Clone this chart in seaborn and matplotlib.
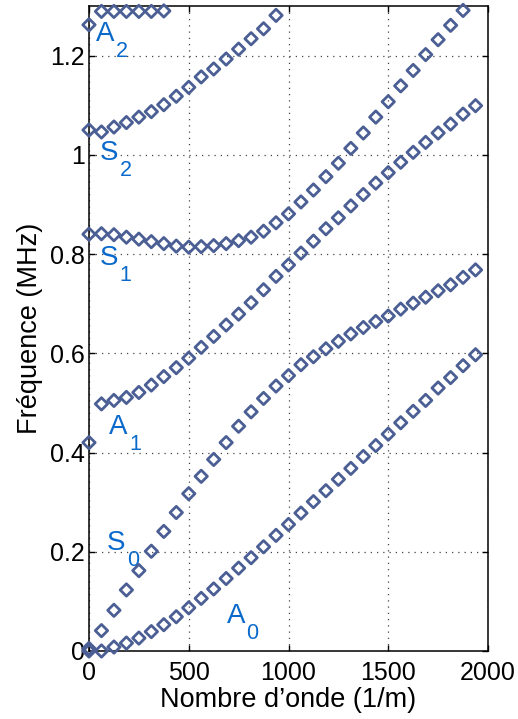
import matplotlib
matplotlib.use("Agg")
import matplotlib.pyplot as plt
import matplotlib.transforms as mtransforms
import seaborn as sns
import pandas as pd

# wavenumber grid (1/m) shared by every mode
wavenumber = [0, 62.5, 125, 187.5, 250, 312.5, 375, 437.5, 500, 562.5, 625, 687.5,
              750, 812.5, 875, 937.5, 1000, 1062.5, 1125, 1187.5, 1250, 1312.5, 1375,
              1437.5, 1500, 1562.5, 1625, 1687.5, 1750, 1812.5, 1875, 1937.5]

# frequencies (MHz)
freq_A0 = [0.000, 0.000, 0.008, 0.016, 0.026, 0.039, 0.053, 0.069, 0.087, 0.106, 0.125,
           0.146, 0.167, 0.188, 0.210, 0.233, 0.255, 0.278, 0.301, 0.323, 0.346, 0.368,
           0.392, 0.414, 0.437, 0.460, 0.483, 0.505, 0.530, 0.551, 0.575, 0.597]
freq_S0 = [0.005, 0.041, 0.082, 0.123, 0.162, 0.201, 0.241, 0.279, 0.317, 0.352, 0.386,
           0.420, 0.453, 0.482, 0.509, 0.534, 0.555, 0.577, 0.593, 0.609, 0.624, 0.639,
           0.652, 0.664, 0.675, 0.689, 0.701, 0.713, 0.726, 0.738, 0.753, 0.768]
freq_A1 = [0.420, 0.498, 0.505, 0.511, 0.521, 0.536, 0.553, 0.571, 0.590, 0.612, 0.634,
           0.657, 0.679, 0.702, 0.728, 0.755, 0.778, 0.802, 0.826, 0.851, 0.873, 0.897,
           0.920, 0.943, 0.964, 0.985, 1.005, 1.025, 1.044, 1.062, 1.082, 1.099]
freq_S1 = [0.840, 0.841, 0.839, 0.834, 0.830, 0.825, 0.821, 0.816, 0.814, 0.815, 0.817,
           0.821, 0.827, 0.834, 0.846, 0.863, 0.881, 0.905, 0.929, 0.956, 0.983, 1.013,
           1.044, 1.076, 1.107, 1.139, 1.170, 1.202, 1.232, 1.261, 1.291]
freq_S2 = [1.050, 1.046, 1.056, 1.065, 1.076, 1.087, 1.101, 1.118, 1.136, 1.157, 1.173,
           1.193, 1.213, 1.234, 1.254, 1.281]
freq_A2 = [1.262, 1.289, 1.289, 1.289, 1.289, 1.289, 1.290]

# mode labels: letter, subscript, anchor (wavenumber, frequency)
label_letters = ["A", "S", "S", "A", "S", "A"]
label_subs = ["2", "2", "1", "1", "0", "0"]
label_k = [36, 52, 53, 100, 90, 689]
label_f = [1.230, 0.990, 0.778, 0.437, 0.204, 0.056]

xticks = [0, 500, 1000, 1500, 2000]
yticks = [0, 0.2, 0.4, 0.6, 0.8, 1.0, 1.2]
yticklabels = ["0", "0.2", "0.4", "0.6", "0.8", "1", "1.2"]

marker_color = "#4b5f94"
label_color = "#0a6acb"

sns.set_theme(style="white")
plt.rcParams["font.family"] = ["Liberation Sans", "DejaVu Sans"]

modes = {"A0": freq_A0, "S0": freq_S0, "A1": freq_A1,
         "S1": freq_S1, "S2": freq_S2, "A2": freq_A2}
frames = []
for name, vals in modes.items():
    frames.append(pd.DataFrame({"k": wavenumber[:len(vals)], "f": vals, "mode": name}))
df = pd.concat(frames, ignore_index=True)

fig = plt.figure(figsize=(5.18, 7.19), dpi=100)
ax = fig.add_axes([0.1718, 0.0946, 0.7703, 0.8971])

sns.scatterplot(data=df, x="k", y="f", ax=ax, marker="D", s=40,
                facecolor="none", edgecolor=marker_color, linewidth=2.0,
                clip_on=False, zorder=5, legend=False)

ax.set_xlim(0, 2000)
ax.set_ylim(0, 1.3)
ax.set_xticks(xticks)
ax.set_yticks(yticks)
ax.set_yticklabels(yticklabels)
ax.grid(True, color="#444444", linestyle=(0, (1, 4)), linewidth=0.9)
ax.tick_params(direction="in", length=4.5, width=1, bottom=True, left=True,
               top=True, right=True, labelsize=18, colors="black")
ax.tick_params(axis="x", pad=7)
ax.tick_params(axis="y", pad=3)
for sp in ax.spines.values():
    sp.set_color("black")
    sp.set_linewidth(1.1)

ax.set_xlabel("Nombre d\u2019onde (1/m)", fontsize=19.5, color="black", labelpad=2)
ax.set_ylabel("Fréquence (MHz)", fontsize=19.5, color="black", labelpad=5)

for letter, sub, kx, fy in zip(label_letters, label_subs, label_k, label_f):
    ax.text(kx, fy, letter, color=label_color, fontsize=20, ha="left", va="baseline")
    sub_tr = mtransforms.offset_copy(ax.transData, fig=fig, x=14.5, y=-11.5, units="points")
    ax.text(kx, fy, sub, color=label_color, fontsize=15.5, ha="left", va="baseline",
            transform=sub_tr)

fig.savefig("out.png", dpi=100)
